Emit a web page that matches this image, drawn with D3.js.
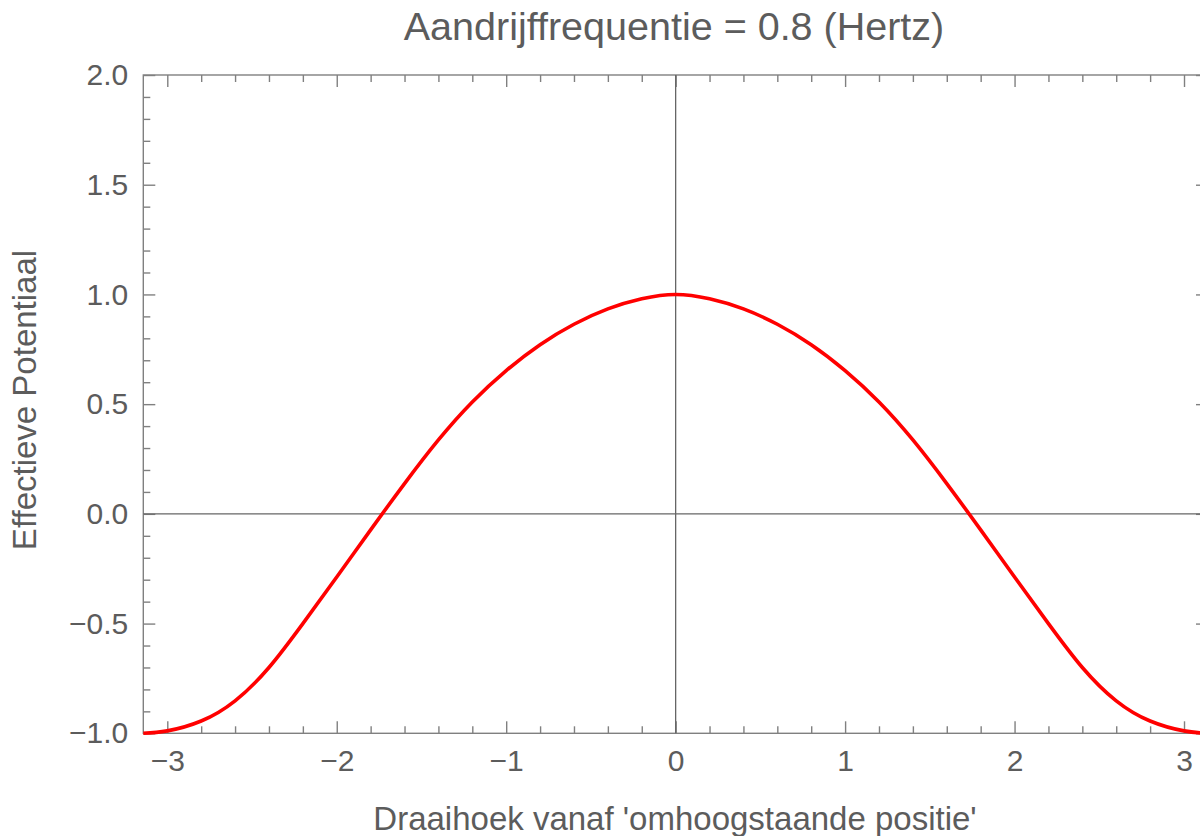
<!DOCTYPE html>
<html>
<head>
<meta charset="utf-8">
<script src="https://cdn.jsdelivr.net/npm/d3@7"></script>
<style>
  body { margin: 0; background: #fff; }
  svg { display: block; font-family: "Liberation Sans", Arial, sans-serif; }
  .tick text { fill: #5c5c5c; }
</style>
</head>
<body>
<svg id="chart" width="1200" height="836"></svg>
<script>
// angle (rad)
var angles = [-3.1416, -3.0, -2.8, -2.6, -2.4, -2.2, -2.0, -1.8, -1.6, -1.4, -1.2, -1.0, -0.8, -0.6, -0.4, -0.2,
              0, 0.2, 0.4, 0.6, 0.8, 1.0, 1.2, 1.4, 1.6, 1.8, 2.0, 2.2, 2.4, 2.6, 2.8, 3.0, 3.1416];
// effective potential at each angle
var potential = [-1.000, -0.989, -0.944, -0.852, -0.700, -0.500, -0.288, -0.073, 0.138, 0.337, 0.510, 0.653, 0.771, 0.864, 0.934, 0.980,
                 1.000, 0.980, 0.934, 0.864, 0.771, 0.653, 0.510, 0.337, 0.138, -0.073, -0.288, -0.500, -0.700, -0.852, -0.944, -0.989, -1.000];

var xTicks = [-3, -2, -1, 0, 1, 2, 3];
var yTicks = [-1.0, -0.5, 0.0, 0.5, 1.0, 1.5, 2.0];
var xMinor = d3.range(-30, 31, 2).map(function (d) { return d / 10; })
    .filter(function (d) { return Math.abs(d - Math.round(d)) > 1e-9; });
var yMinor = d3.range(-10, 21, 1).map(function (d) { return d / 10; })
    .filter(function (d) { return Math.abs(d * 2 - Math.round(d * 2)) > 1e-9; });

var title = "Aandrijffrequentie = 0.8 (Hertz)";
var xLabel = "Draaihoek vanaf 'omhoogstaande positie'";
var yLabel = "Effectieve Potentiaal";

var svg = d3.select("#chart"),
    plotLeft = 143.3, plotRight = 1208, plotTop = 75, plotBottom = 733.3;

var x = d3.scaleLinear().domain([-Math.PI, Math.PI]).range([plotLeft, plotRight]),
    y = d3.scaleLinear().domain([-1, 2]).range([plotBottom, plotTop]);

var frameColor = "#808080";

function styleAxis(g) {
    g.select(".domain").remove();
    g.selectAll(".tick line").attr("stroke", frameColor).attr("stroke-width", 1.4);
}

// minor ticks
svg.append("g").attr("transform", "translate(0," + plotBottom + ")")
    .call(d3.axisBottom(x).tickValues(xMinor).tickSize(-7).tickFormat(""))
    .call(styleAxis);
svg.append("g").attr("transform", "translate(0," + plotTop + ")")
    .call(d3.axisTop(x).tickValues(xMinor).tickSize(-7).tickFormat(""))
    .call(styleAxis);
svg.append("g").attr("transform", "translate(" + plotLeft + ",0)")
    .call(d3.axisLeft(y).tickValues(yMinor).tickSize(-7).tickFormat(""))
    .call(styleAxis);
svg.append("g").attr("transform", "translate(" + plotRight + ",0)")
    .call(d3.axisRight(y).tickValues(yMinor).tickSize(-7).tickFormat(""))
    .call(styleAxis);

// major ticks with labels
svg.append("g").attr("transform", "translate(0," + plotBottom + ")")
    .call(d3.axisBottom(x).tickValues(xTicks).tickSize(-12).tickPadding(16).tickFormat(d3.format("d")))
    .call(styleAxis)
    .selectAll("text").attr("font-size", 30).attr("font-family", "Liberation Sans, Arial, sans-serif");
svg.append("g").attr("transform", "translate(0," + plotTop + ")")
    .call(d3.axisTop(x).tickValues(xTicks).tickSize(-12).tickFormat(""))
    .call(styleAxis);
svg.append("g").attr("transform", "translate(" + plotLeft + ",0)")
    .call(d3.axisLeft(y).tickValues(yTicks).tickSize(-12).tickPadding(15).tickFormat(d3.format(".1f")))
    .call(styleAxis)
    .selectAll("text").attr("font-size", 30).attr("font-family", "Liberation Sans, Arial, sans-serif");
svg.append("g").attr("transform", "translate(" + plotRight + ",0)")
    .call(d3.axisRight(y).tickValues(yTicks).tickSize(-12).tickFormat(""))
    .call(styleAxis);

// frame
svg.append("rect")
    .attr("x", plotLeft).attr("y", plotTop)
    .attr("width", plotRight - plotLeft).attr("height", plotBottom - plotTop)
    .attr("fill", "none").attr("stroke", frameColor).attr("stroke-width", 1.4);

// axes through the origin
svg.append("line")
    .attr("x1", x(0)).attr("x2", x(0)).attr("y1", plotTop).attr("y2", plotBottom)
    .attr("stroke", "#666").attr("stroke-width", 1.3);
svg.append("line")
    .attr("x1", plotLeft).attr("x2", plotRight).attr("y1", y(0)).attr("y2", y(0))
    .attr("stroke", "#666").attr("stroke-width", 1.3);

// curve
var line = d3.line()
    .x(function (d, i) { return x(angles[i]); })
    .y(function (d) { return y(d); })
    .curve(d3.curveNatural);

svg.append("path")
    .datum(potential)
    .attr("d", line)
    .attr("fill", "none")
    .attr("stroke", "#ff0000")
    .attr("stroke-width", 3.6)
    .attr("stroke-linejoin", "round");

// texts
svg.append("text")
    .attr("x", 674).attr("y", 40)
    .attr("text-anchor", "middle")
    .attr("font-size", 39.5)
    .attr("fill", "#5c5c5c")
    .text(title);

svg.append("text")
    .attr("x", 675).attr("y", 830)
    .attr("text-anchor", "middle")
    .attr("font-size", 33)
    .attr("fill", "#5c5c5c")
    .text(xLabel);

svg.append("text")
    .attr("transform", "translate(36,400) rotate(-90)")
    .attr("text-anchor", "middle")
    .attr("font-size", 33)
    .attr("fill", "#5c5c5c")
    .text(yLabel);
</script>
</body>
</html>
